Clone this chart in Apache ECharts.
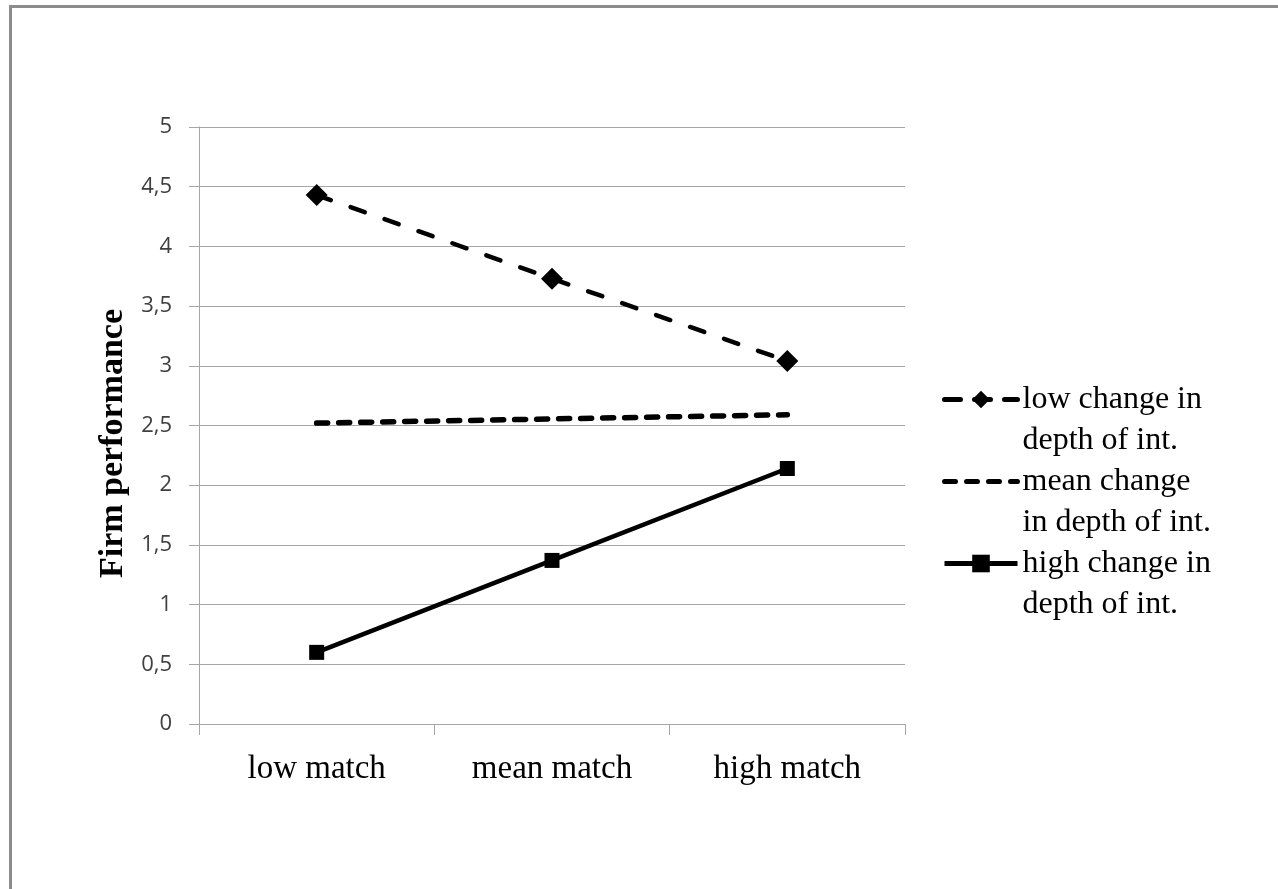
<!DOCTYPE html>
<html>
<head>
<meta charset="utf-8">
<script src="https://cdn.jsdelivr.net/npm/echarts@6/dist/echarts.min.js"></script>
<style>
html,body{margin:0;padding:0;background:#fff;overflow:hidden;}
#chart{width:1278px;height:889px;}
</style>
</head>
<body>
<div id="chart"></div>
<script>
const categories = ['low match', 'mean match', 'high match'];
const seriesNames = ['low change in\ndepth of int.', 'mean change\nin depth of int.', 'high change in\ndepth of int.'];
const lowChange = [4.43, 3.73, 3.04];
const meanChange = [2.52, 2.555, 2.59];
const highChange = [0.60, 1.37, 2.14];
const yTickValues = [0, 0.5, 1, 1.5, 2, 2.5, 3, 3.5, 4, 4.5, 5];
const yTickLabels = ['0', '0,5', '1', '1,5', '2', '2,5', '3', '3,5', '4', '4,5', '5'];
const yAxisTitle = 'Firm performance';

const chart = echarts.init(document.getElementById('chart'));
const gridGray = '#a6a6a6';
const serif = '"Liberation Serif", "Times New Roman", serif';

chart.setOption({
  backgroundColor: '#fff',
  animation: false,
  graphic: [{
    type: 'rect',
    shape: {x: 10.5, y: 6.5, width: 1400, height: 1000},
    style: {fill: 'none', stroke: '#8c8c8c', lineWidth: 3},
    silent: true
  }],
  grid: {left: 199, right: 373, top: 127, bottom: 165},
  legend: {
    orient: 'vertical',
    left: 942,
    top: 338,
    padding: 0,
    itemWidth: 73,
    itemHeight: 22,
    itemGap: -41,
    lineStyle: {width: 5},
    formatter: function (name) { return '\n' + name; },
    data: [
      {name: seriesNames[0], lineStyle: {type: [16, 14]}},
      {name: seriesNames[1], itemStyle: {opacity: 0}},
      {name: seriesNames[2]}
    ],
    textStyle: {
      fontFamily: serif, fontSize: 32, color: '#000', lineHeight: 41
    }
  },
  xAxis: {
    type: 'category',
    data: categories,
    boundaryGap: true,
    axisLine: {lineStyle: {color: gridGray, width: 1}},
    axisTick: {show: true, length: 11, interval: 0, lineStyle: {color: gridGray}},
    axisLabel: {fontFamily: serif, fontSize: 33, color: '#000', margin: 29}
  },
  yAxis: {
    type: 'value',
    min: 0, max: 5, interval: 0.5,
    name: yAxisTitle,
    nameLocation: 'middle',
    nameGap: 62,
    nameTextStyle: {fontFamily: serif, fontSize: 34, fontWeight: 'bold', color: '#000', padding: [0, 36, 0, 0]},
    axisLine: {show: true, lineStyle: {color: gridGray, width: 1}},
    axisTick: {show: true, length: 10, lineStyle: {color: gridGray}},
    splitLine: {lineStyle: {color: gridGray, width: 1}},
    axisLabel: {
      fontFamily: '"Open Sans", "Noto Sans", sans-serif', fontSize: 22, color: '#404040', margin: 27,
      formatter: function (v) {
        const i = yTickValues.findIndex(t => Math.abs(t - v) < 1e-9);
        return i >= 0 ? yTickLabels[i] : String(v);
      }
    }
  },
  series: [
    {
      name: seriesNames[0], type: 'line', data: lowChange,
      symbol: 'diamond', symbolSize: 22,
      itemStyle: {color: '#000'},
      lineStyle: {color: '#000', width: 4.5, type: [15, 21], cap: 'round'}
    },
    {
      name: seriesNames[1], type: 'line', data: meanChange,
      symbol: 'none', showSymbol: false,
      itemStyle: {color: '#000'},
      lineStyle: {color: '#000', width: 5.5, type: [11, 11], cap: 'round'}
    },
    {
      name: seriesNames[2], type: 'line', data: highChange,
      symbol: 'rect', symbolSize: 15,
      itemStyle: {color: '#000'},
      lineStyle: {color: '#000', width: 4.5}
    }
  ]
});
</script>
</body>
</html>
